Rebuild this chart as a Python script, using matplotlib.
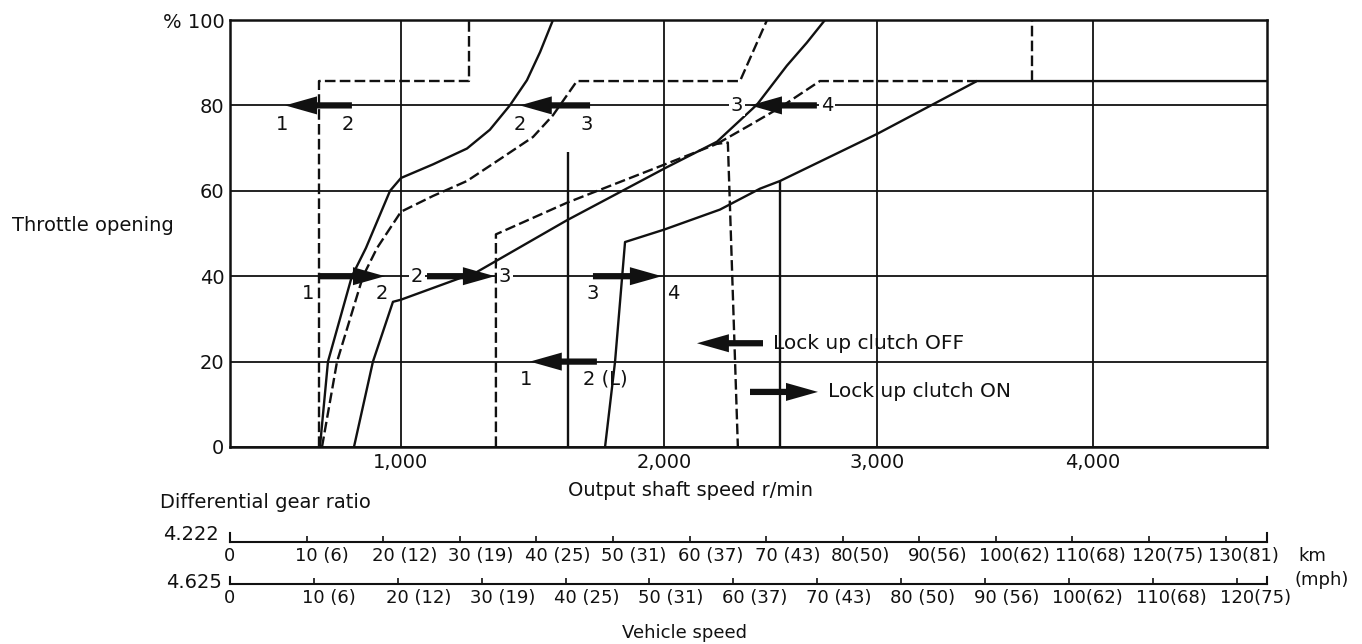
import numpy as np
import matplotlib
matplotlib.use("Agg")
import matplotlib.pyplot as plt

# ---------------- data ----------------
# output shaft speed (r/min) vs throttle opening (%)
line_a_rpm = [520, 520, 1259, 1259]                      # dashed step line
line_a_pct = [0, 85.7, 85.7, 100]

line_b_rpm = [526, 573, 713, 795, 936, 1000, 1122, 1251, 1338, 1414, 1479, 1529, 1578]
line_b_pct = [0, 20, 40, 46.6, 60, 63.0, 66.2, 69.9, 74.3, 80, 85.9, 92.5, 100]

line_c_rpm = [538, 626, 778, 860, 1000, 1122, 1251, 1376, 1502, 1578, 1669, 2357, 2484]
line_c_pct = [0, 20, 40, 46.6, 55.1, 58.8, 62.3, 67.4, 72.6, 77.7, 85.7, 85.7, 100]

line_d_rpm = [725, 836, 953, 1000, 1289, 1631, 2005, 2249, 2437, 2577, 2671, 2756]
line_d_pct = [0, 20, 34.0, 34.5, 41.0, 53.1, 65.3, 71.5, 80.2, 89.3, 94.7, 100]

line_e_rpm = [1361, 1361, 1631, 2005, 2249, 2300, 2347]
line_e_pct = [0, 49.8, 57.2, 66.2, 71.0, 71.3, 0]

line_e2_rpm = [2249, 2404, 2545, 2732, 3463]
line_e2_pct = [71.0, 75.4, 79.5, 85.7, 85.7]

line_f_rpm = [1776, 1814, 1852, 2000, 2263, 2451, 2545, 3000, 3463, 4806]
line_f_pct = [0, 20, 48.0, 50.9, 55.6, 60.5, 62.3, 73.3, 85.7, 85.7]

line_k_rpm = [3718, 3718]
line_k_pct = [85.7, 100]

line_g_rpm = [2545, 2545]       # lock-up ON
line_g_pct = [0, 62.3]

line_j_rpm = [1635, 1635]
line_j_pct = [0, 69.2]

# arrows: (tail rpm, tip rpm, throttle %)
arrows = [
    (713, 322, 80), (1719, 1452, 80), (2718, 2404, 80),
    (515, 906, 40), (1099, 1357, 40), (1730, 1992, 40),
    (1745, 1490, 20),
    (2465, 2155, 24.3), (2404, 2723, 12.9),
]
# gear labels: (text, rpm, %, inline-on-gridline)
gear_labels = [
    ("1", 304, 75.6, False), ("2", 690, 75.6, False),
    ("2", 1452, 75.6, False), ("3", 1707, 75.6, False),
    ("3", 2343, 80, True), ("4", 2765, 80, True),
    ("1", 456, 35.9, False), ("2", 889, 35.9, False),
    ("2", 1061, 40, True), ("3", 1395, 40, True),
    ("3", 1730, 35.9, False), ("4", 2042, 35.9, False),
    ("1", 1475, 15.9, False), ("2 (L)", 1776, 15.9, False),
]
lockup_text = [("Lock up clutch OFF", 2512, 24.3), ("Lock up clutch ON", 2770, 12.9)]

x_ticks = [1000, 2000, 3000, 4000]
x_ticklabels = ["1,000", "2,000", "3,000", "4,000"]
y_ticks = [0, 20, 40, 60, 80, 100]
y_ticklabels = ["0", "20", "40", "60", "80", "% 100"]

speed_vals_1 = [0, 10, 20, 30, 40, 50, 60, 70, 80, 90, 100, 110, 120, 130]
speed_labels_1 = ["0", "10 (6)", "20 (12)", "30 (19)", "40 (25)", "50 (31)", "60 (37)",
                  "70 (43)", "80(50)", "90(56)", "100(62)", "110(68)", "120(75)", "130(81)"]
speed_vals_2 = [0, 10, 20, 30, 40, 50, 60, 70, 80, 90, 100, 110, 120]
speed_labels_2 = ["0", "10 (6)", "20 (12)", "30 (19)", "40 (25)", "50 (31)", "60 (37)",
                  "70 (43)", "80 (50)", "90 (56)", "100(62)", "110(68)", "120(75)"]

# ---------------- layout ----------------
W_PX, H_PX = 1362, 644
RPM_KNOTS = np.array([-10000, 0, 1000, 2000, 3000, 4000, 20000], float)
POS_KNOTS = np.array([-1480, 230, 401, 664, 877, 1093, 4549], float)
X_MAX = 4806
SCALE1_MAX = 135.4
SCALE2_MAX = 123.6


def fwd(x):
    return np.interp(x, RPM_KNOTS, POS_KNOTS)


def inv(p):
    return np.interp(p, POS_KNOTS, RPM_KNOTS)


def fx(px):
    return px / W_PX


def fy(py):
    return 1 - py / H_PX


fig = plt.figure(figsize=(W_PX / 100, H_PX / 100), dpi=100)
ax = fig.add_axes([fx(230), fy(447), (1267 - 230) / W_PX, (447 - 20) / H_PX])
ax.set_xscale("function", functions=(fwd, inv))
ax.set_xlim(0, X_MAX)
ax.set_ylim(0, 100)
ax.set_xticks(x_ticks)
ax.set_xticklabels(x_ticklabels)
ax.set_yticks(y_ticks)
ax.set_yticklabels(y_ticklabels)
ax.tick_params(length=0, labelsize=14, pad=4, colors="#111111")
ax.minorticks_off()
ax.grid(True, color="#111111", lw=1.3)
ax.set_axisbelow(True)
for s in ax.spines.values():
    s.set_linewidth(1.8)
    s.set_color("#111111")

solid = dict(color="#111111", lw=1.7, solid_capstyle="butt", zorder=2)
dashed = dict(color="#111111", lw=1.7, linestyle=(0, (4.5, 1.8)), zorder=2)

ax.plot(line_a_rpm, line_a_pct, **dashed)
ax.plot(line_b_rpm, line_b_pct, **solid)
ax.plot(line_c_rpm, line_c_pct, **dashed)
ax.plot(line_d_rpm, line_d_pct, **solid)
ax.plot(line_e_rpm, line_e_pct, **dashed)
ax.plot(line_e2_rpm, line_e2_pct, **dashed)
ax.plot(line_f_rpm, line_f_pct, **solid)
ax.plot(line_k_rpm, line_k_pct, **dashed)
ax.plot(line_g_rpm, line_g_pct, **solid)
ax.plot(line_j_rpm, line_j_pct, **solid)

for tail, tip, y in arrows:
    ax.annotate("", xy=(tip, y), xytext=(tail, y),
                arrowprops=dict(arrowstyle="simple,head_length=2.3,head_width=1.3,tail_width=0.45",
                                mutation_scale=10, fc="#111111", ec="none",
                                shrinkA=0, shrinkB=0), zorder=4)

for txt, x, y, inline in gear_labels:
    kw = dict(ha="center", va="center", fontsize=14, color="#111111", zorder=5)
    if inline:
        kw["bbox"] = dict(boxstyle="square,pad=0.08", fc="white", ec="none")
    ax.text(x, y, txt, **kw)

for txt, x, y in lockup_text:
    ax.text(x, y, txt, ha="left", va="center", fontsize=14.5, color="#111111")

# ---------------- vehicle speed scales ----------------
def speed_scale(line_py, height_px, xmax, vals, labels):
    a = fig.add_axes([fx(230), fy(line_py), (1267 - 230) / W_PX, height_px / H_PX])
    a.set_xlim(0, xmax)
    a.set_ylim(0, 1)
    a.patch.set_alpha(0)
    a.spines["top"].set_visible(False)
    for k in ("left", "right", "bottom"):
        a.spines[k].set_linewidth(1.5)
        a.spines[k].set_color("#111111")
    a.set_yticks([])
    a.set_xticks(vals[1:])
    a.tick_params(axis="x", direction="in", length=4.5, width=1.2, labelbottom=False,
                  colors="#111111")
    for v, lbl in zip(vals, labels):
        nd = len(lbl.split("(")[0].strip())
        a.annotate(lbl, xy=(v, 0), xycoords=("data", "axes fraction"),
                   xytext=(-0.318 * 13 * nd, -3.5), textcoords="offset points",
                   ha="left", va="top", fontsize=13, color="#111111")
    return a


speed_scale(542, 9, SCALE1_MAX, speed_vals_1, speed_labels_1)
speed_scale(584, 7, SCALE2_MAX, speed_vals_2, speed_labels_2)

tc = "#111111"
fig.text(fx(12), fy(226), "Throttle opening", ha="left", va="center", fontsize=14, color=tc)
fig.text(fx(690), fy(490), "Output shaft speed r/min", ha="center", va="center", fontsize=14, color=tc)
fig.text(fx(160), fy(503), "Differential gear ratio", ha="left", va="center", fontsize=14, color=tc)
fig.text(fx(219), fy(535), "4.222", ha="right", va="center", fontsize=14, color=tc)
fig.text(fx(222), fy(582), "4.625", ha="right", va="center", fontsize=14, color=tc)
fig.text(fx(1298), fy(556), "km", ha="left", va="center", fontsize=13, color=tc)
fig.text(fx(1295), fy(580), "(mph)", ha="left", va="center", fontsize=13, color=tc)
fig.text(fx(685), fy(633), "Vehicle speed", ha="center", va="center", fontsize=13, color=tc)

fig.savefig("out.png", dpi=100, facecolor="white")
